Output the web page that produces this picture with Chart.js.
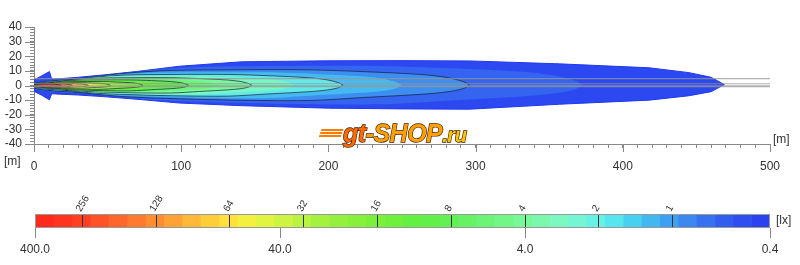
<!DOCTYPE html>
<html>
<head>
<meta charset="utf-8">
<script src="https://cdn.jsdelivr.net/npm/chart.js@4.4.0/dist/chart.umd.min.js"></script>
<style>
body { margin: 0; background: #fff; width: 800px; height: 265px; overflow: hidden; position: relative; font-family: 'Liberation Sans', Arial, sans-serif; }
#beam { position: absolute; left: 0; top: 0; }
#scale { position: absolute; left: 0; top: 190px; }
#logo { position: absolute; left: 320px; top: 119px; font: italic bold 25px 'Liberation Sans', Arial, sans-serif; letter-spacing: -0.5px; -webkit-text-stroke: 1.3px #3a1a00; paint-order: stroke fill; white-space: nowrap; }
#logo .sl { display: inline-block; width: 22px; height: 9px; margin-right: 1px; background: repeating-linear-gradient(#ff7a00 0 2px, transparent 2px 3px); transform: skewX(-20deg); vertical-align: 4px; }
#logo .g { color: #ff6a00; }
#logo .s { color: #ffa000; }
#logo .r { color: #ffc400; font-size: 20px; }
</style>
</head>
<body>
<canvas id="beam" width="800" height="174"></canvas>
<canvas id="scale" width="800" height="75"></canvas>
<div id="logo"><span class="sl"></span><span class="g">gt</span><span class="s">-SHOP</span><span class="r">.ru</span></div>
<script>
Chart.defaults.font.family = "'Liberation Sans', Arial, sans-serif";
Chart.defaults.color = '#333';

// outer 0.4 lx boundary (m)
const outerX   = [0, 5, 10.5, 12, 17, 30, 47, 70, 99, 141, 200, 250, 296, 357, 418, 445, 460, 469];
const outerTop = [3.8, 6.5, 9.5, 4.4, 4.6, 5.6, 7.2, 9.6, 13.2, 16.2, 16.9, 17, 16.8, 14.8, 12.1, 8.8, 5.6, 0.6];
const outerBot = [-4, -6.5, -9.8, -5.6, -5.9, -6.5, -7.6, -9.4, -12, -13.8, -15.5, -16, -16.2, -12.8, -10, -7, -4.2, 0.6];

// shape of the inner isolux curves, as part of reach / max half width
const profileF   = [0, 0.04, 0.1, 0.2, 0.3, 0.45, 0.63, 0.76, 0.89, 0.95, 0.985, 1];
const profileTop = [0.15, 0.3, 0.42, 0.76, 0.95, 1, 1, 0.88, 0.7, 0.5, 0.25, 0.03];
const profileBot = [-0.15, -0.33, -0.44, -0.7, -0.82, -0.93, -0.96, -0.76, -0.56, -0.4, -0.2, 0.03];

// isolux levels [lx], reach along the road [m], max half width [m]
const contourLux   = [0.63, 1, 1.4, 2, 2.8, 4, 5.6, 8, 11, 16, 22, 32, 45, 64, 90, 128, 180, 256];
const contourReach = [373, 296, 250, 210, 177, 148, 125, 105, 89, 74, 63, 52, 44, 37, 31, 26, 22, 18.5];
const contourWidth = [13.4, 10.7, 9.0, 7.55, 6.4, 5.35, 4.5, 3.8, 3.2, 2.7, 2.3, 1.9, 1.6, 1.35, 1.3, 1.15, 1.0, 0.9];
const contourColors = ['#3464f0', '#3c8ef0', '#46baf0', '#62eae8', '#78f6c4', '#78f89c', '#6cf478', '#62f050', '#6af03e',
    '#80f03a', '#9af23e', '#c4f440', '#eaf040', '#ffd43a', '#ffa834', '#ff8030', '#ff5828', '#ff3020'];
const lineLevels = [256, 128, 64, 32, 16, 8, 4, 2, 1];

const laneY = [4.7, 1.2, -0.5];
const xTickLabels = [0, 100, 200, 300, 400, 500];
const yTickLabels = [-40, -30, -20, -10, 0, 10, 20, 30, 40];

// colour scale
const scaleLabels = [400, 40, 4, 0.4];
const barSteps = [400, 336.6, 283.2, 238.3, 200.5, 168.7, 141.9, 119.4, 100.5, 84.5, 71.1, 59.8, 50.3, 42.4, 35.6, 30.0,
    25.2, 21.2, 17.9, 15.0, 12.6, 10.6, 8.94, 7.52, 6.33, 5.33, 4.48, 3.77, 3.17, 2.67, 2.25, 1.89, 1.59, 1.34, 1.13,
    0.95, 0.80, 0.67, 0.566, 0.476, 0.4];
const barColors = ['#ff2a1e', '#ff3420', '#ff3e22', '#ff5226', '#ff662a', '#ff7a2e', '#ff8e30', '#ffa234', '#ffb838', '#ffcc3a',
    '#ffe03c', '#f4f040', '#e0f440', '#ccf440', '#b8f440', '#a4f23e', '#94f03c', '#86f03a', '#7af03a', '#6ef03c',
    '#64f040', '#60f048', '#62f054', '#66f264', '#6cf474', '#72f686', '#78f898', '#7cf8ac', '#7cf8c0', '#74f6d4',
    '#68f2e6', '#56e6f0', '#48d0f0', '#42b8f0', '#3ea0f0', '#3a88f0', '#3672f0', '#325ef0', '#2e4ef0', '#2a42f0'];

function ring(xs, tops, bots) {
    const upper = xs.map((x, i) => ({ x: x, y: tops[i] }));
    const lower = xs.map((x, i) => ({ x: x, y: bots[i] })).reverse();
    return upper.concat(lower, [upper[0]]);
}

const datasets = [];
datasets.push({
    data: ring(outerX, outerTop, outerBot),
    backgroundColor: '#2c48f0', borderColor: '#2038f0', borderWidth: 1,
    fill: 'shape', tension: 0, pointRadius: 0, order: 100
});
contourLux.forEach((lux, i) => {
    const xs = profileF.map(f => f * contourReach[i]);
    const tops = profileTop.map(p => p * contourWidth[i]);
    const bots = profileBot.map(p => p * contourWidth[i]);
    const drawn = lineLevels.includes(lux);
    datasets.push({
        data: ring(xs, tops, bots),
        backgroundColor: contourColors[i],
        borderColor: drawn ? 'rgba(25,25,45,0.85)' : 'rgba(0,0,0,0)',
        borderWidth: drawn ? 0.8 : 0,
        fill: 'shape', tension: 0.3, pointRadius: 0, order: 50 - i
    });
});
laneY.forEach((y, i) => {
    datasets.push({
        data: [{ x: 0, y: y }, { x: 500, y: y }],
        borderColor: 'rgba(150,150,150,0.75)', borderWidth: i === 2 ? 2 : 1.2,
        fill: false, pointRadius: 0, order: 0
    });
});

const beamMarks = {
    id: 'beamMarks',
    afterDraw(chart) {
        const { ctx, chartArea, scales } = chart;
        ctx.save();
        ctx.strokeStyle = '#888';
        ctx.lineWidth = 1;
        ctx.beginPath();
        xTickLabels.forEach(v => {
            const px = Math.round(scales.x.getPixelForValue(v)) + 0.5;
            ctx.moveTo(px, chartArea.bottom);
            ctx.lineTo(px, chartArea.bottom + 8);
        });
        yTickLabels.forEach(v => {
            const py = Math.round(scales.y.getPixelForValue(v)) + 0.5;
            ctx.moveTo(chartArea.left - 9, py);
            ctx.lineTo(chartArea.left, py);
        });
        ctx.stroke();
        ctx.fillStyle = '#333';
        ctx.font = "12px 'Liberation Sans', Arial, sans-serif";
        ctx.textAlign = 'left';
        ctx.textBaseline = 'middle';
        ctx.fillText('[m]', chartArea.right + 3, chartArea.bottom - 4);
        ctx.fillText('[m]', 4, chartArea.bottom + 18);
        ctx.restore();
    }
};

new Chart(document.getElementById('beam'), {
    type: 'line',
    data: { datasets: datasets },
    options: {
        responsive: false,
        animation: false,
        devicePixelRatio: 1,
        layout: { padding: { left: 0, right: 30, top: 27, bottom: 0 } },
        plugins: { legend: { display: false }, tooltip: { enabled: false } },
        scales: {
            x: {
                type: 'linear', min: 0, max: 500,
                ticks: { stepSize: 10, autoSkip: false, maxRotation: 0, minRotation: 0, padding: 11,
                    font: { size: 12 }, callback: v => (v % 100 === 0 ? v : '') },
                grid: { drawOnChartArea: false, tickLength: 4, color: '#888' },
                border: { color: '#888' },
                afterFit: s => { s.height = 30; }
            },
            y: {
                type: 'linear', min: -40, max: 40,
                ticks: { stepSize: 2, autoSkip: false, padding: 8, font: { size: 12 },
                    callback: v => (v % 10 === 0 ? v : '') },
                grid: { drawOnChartArea: false, tickLength: 4, color: '#888' },
                border: { color: '#888' },
                afterFit: s => { s.width = 34; }
            }
        }
    },
    plugins: [beamMarks]
});

const scaleFrame = {
    id: 'scaleFrame',
    afterDraw(chart) {
        const { ctx, chartArea } = chart;
        ctx.save();
        ctx.strokeStyle = '#999';
        ctx.lineWidth = 1;
        ctx.strokeRect(chartArea.left + 0.5, chartArea.top + 0.5, chartArea.width - 1, chartArea.height - 1);
        ctx.fillStyle = '#333';
        ctx.font = "12px 'Liberation Sans', Arial, sans-serif";
        ctx.textBaseline = 'middle';
        ctx.fillText('[lx]', chartArea.right + 6, (chartArea.top + chartArea.bottom) / 2);
        ctx.restore();
    }
};

const bands = barColors.map((c, i) => ({
    data: [[barSteps[i + 1], barSteps[i]]],
    backgroundColor: c, borderWidth: 0,
    barPercentage: 1, categoryPercentage: 1, grouped: false
}));

new Chart(document.getElementById('scale'), {
    type: 'bar',
    data: { labels: [''], datasets: bands },
    options: {
        indexAxis: 'y',
        responsive: false,
        animation: false,
        devicePixelRatio: 1,
        layout: { padding: { left: 35, right: 30, top: 0, bottom: 0 } },
        plugins: { legend: { display: false }, tooltip: { enabled: false } },
        scales: {
            x: {
                type: 'logarithmic', position: 'bottom', reverse: true, min: 0.4, max: 400,
                afterBuildTicks: s => { s.ticks = scaleLabels.map(v => ({ value: v })); },
                ticks: { autoSkip: false, maxRotation: 0, minRotation: 0, padding: 4, font: { size: 12 },
                    callback: v => Number(v).toFixed(1) },
                grid: { drawOnChartArea: false, tickLength: 10, color: '#888' },
                border: { display: false },
                afterFit: s => { s.height = 37; }
            },
            top: {
                type: 'logarithmic', position: 'top', reverse: true, min: 0.4, max: 400,
                afterBuildTicks: s => { s.ticks = lineLevels.map(v => ({ value: v })); },
                ticks: { autoSkip: false, maxRotation: 58, minRotation: 58, padding: 0, labelOffset: 6,
                    font: { size: 10 }, callback: v => String(v) },
                grid: { drawTicks: false, color: '#333', z: 1 },
                border: { display: false },
                afterFit: s => { s.height = 24; }
            },
            y: { display: false }
        }
    },
    plugins: [scaleFrame]
});
</script>
</body>
</html>
